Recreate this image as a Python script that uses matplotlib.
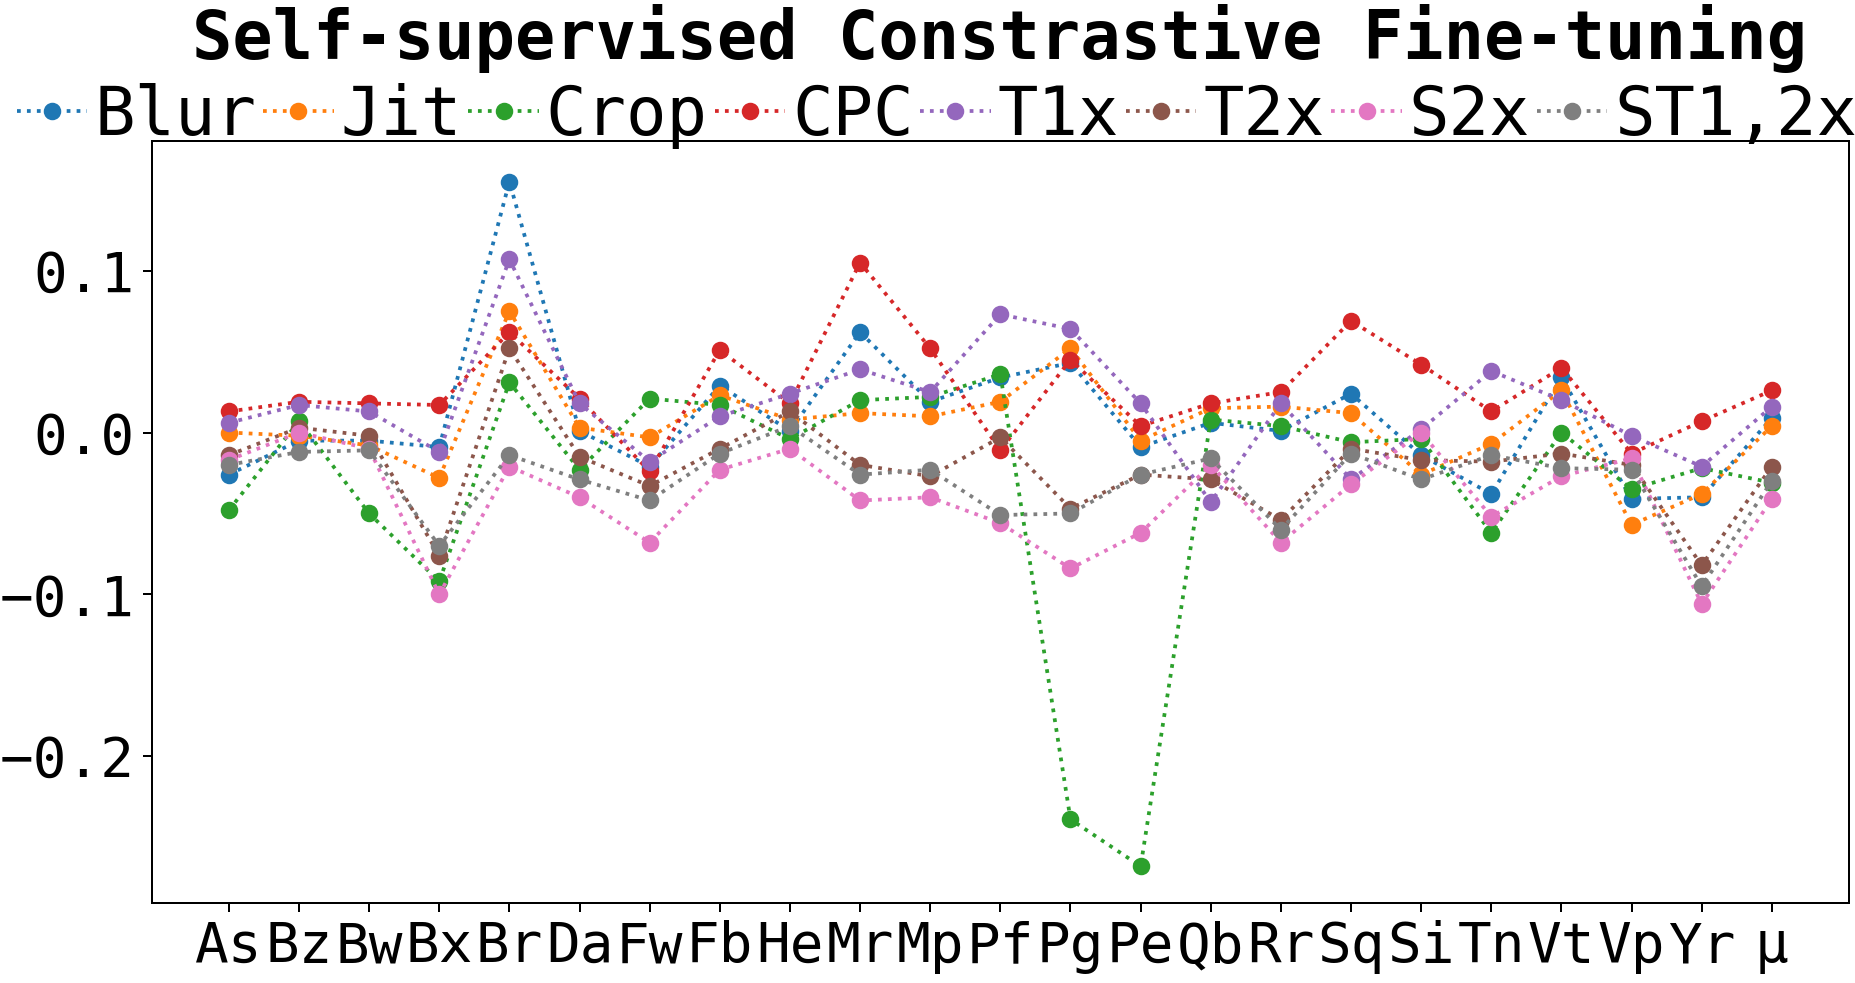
import matplotlib
matplotlib.use("Agg")
import matplotlib.pyplot as plt

plt.rcParams['font.family'] = ['DejaVu Sans Mono', 'DejaVu Sans']

categories = ['As', 'Bz', 'Bw', 'Bx', 'Br', 'Da', 'Fw', 'Fb', 'He', 'Mr', 'Mp', 'Pf',
              'Pg', 'Pe', 'Qb', 'Rr', 'Sq', 'Si', 'Tn', 'Vt', 'Vp', 'Yr', 'μ']

blur = [-0.026, -0.005, -0.005, -0.009, 0.155, 0.001, -0.021, 0.029, 0.001, 0.062, 0.019, 0.034,
        0.043, -0.009, 0.006, 0.001, 0.024, -0.014, -0.038, 0.034, -0.041, -0.040, 0.009]
jit = [0.000, -0.002, -0.008, -0.028, 0.075, 0.003, -0.003, 0.023, 0.008, 0.012, 0.010, 0.019,
       0.052, -0.005, 0.015, 0.016, 0.012, -0.026, -0.007, 0.026, -0.057, -0.038, 0.004]
crop = [-0.048, 0.007, -0.050, -0.092, 0.031, -0.023, 0.021, 0.017, -0.004, 0.020, 0.022, 0.036,
        -0.239, -0.268, 0.008, 0.004, -0.006, -0.004, -0.062, 0.000, -0.035, -0.022, -0.031]
cpc = [0.013, 0.019, 0.018, 0.017, 0.062, 0.021, -0.024, 0.051, 0.018, 0.105, 0.052, -0.011,
       0.045, 0.004, 0.018, 0.025, 0.069, 0.042, 0.013, 0.040, -0.013, 0.007, 0.026]
t1x = [0.006, 0.017, 0.013, -0.012, 0.107, 0.018, -0.018, 0.010, 0.024, 0.039, 0.025, 0.073,
       0.064, 0.018, -0.043, 0.018, -0.029, 0.002, 0.038, 0.020, -0.002, -0.021, 0.016]
t2x = [-0.014, 0.003, -0.002, -0.076, 0.052, -0.015, -0.033, -0.010, 0.013, -0.020, -0.027, -0.003,
       -0.047, -0.026, -0.029, -0.054, -0.010, -0.017, -0.018, -0.013, -0.020, -0.082, -0.021]
s2x = [-0.017, 0.000, -0.010, -0.100, -0.021, -0.040, -0.068, -0.023, -0.010, -0.042, -0.040, -0.056,
       -0.084, -0.062, -0.020, -0.068, -0.032, 0.000, -0.052, -0.027, -0.016, -0.106, -0.041]
st12x = [-0.020, -0.012, -0.011, -0.070, -0.014, -0.029, -0.042, -0.013, 0.004, -0.026, -0.023, -0.051,
         -0.050, -0.026, -0.016, -0.060, -0.013, -0.029, -0.014, -0.022, -0.023, -0.095, -0.030]

series_names = ['Blur', 'Jit', 'Crop', 'CPC', 'T1x', 'T2x', 'S2x', 'ST1,2x']
series_values = [blur, jit, crop, cpc, t1x, t2x, s2x, st12x]

W, H, DPI = 1855, 983, 180
fig = plt.figure(figsize=(W / DPI, H / DPI), dpi=DPI)
ax = fig.add_axes([151.7 / W, 1 - 902.7 / H, (1849 - 151.7) / W, (902.7 - 140.7) / H])

x = list(range(len(categories)))
handles = []
for name, vals in zip(series_names, series_values):
    h, = ax.plot(x, vals, linestyle=':', marker='o', label=name)
    handles.append(h)

ax.set_xticks(x)
ax.set_xticklabels(categories)
ax.set_yticks([-0.2, -0.1, 0.0, 0.1])
ax.tick_params(axis='both', labelsize=22.4)
ax.set_ylim(-0.2905, 0.1803)

fig.text(1000 / W, 1 - 59 / H, 'Self-supervised Constrastive Fine-tuning',
         ha='center', va='baseline', fontsize=26.8, fontweight='bold')

fig.legend(handles=handles, labels=series_names, loc='center',
           bbox_to_anchor=(937 / W, 1 - 116 / H), ncol=8, frameon=False,
           fontsize=26.9, handlelength=1.05, handletextpad=0.1,
           columnspacing=0.1, borderpad=0.0, borderaxespad=0.0)

fig.savefig('out.png', dpi=DPI)
